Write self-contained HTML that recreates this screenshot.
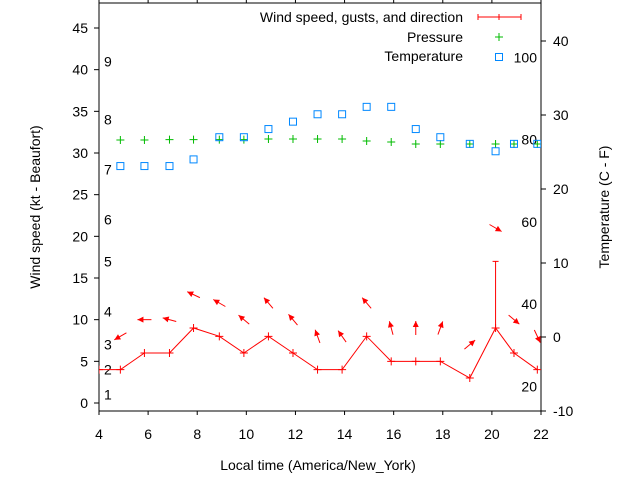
<!DOCTYPE html>
<html><head><meta charset="utf-8"><style>
html,body{margin:0;padding:0;background:#fff}
svg{display:block;font-family:"Liberation Sans",sans-serif}
</style></head><body>
<svg id="c" width="640" height="480"></svg>
<script>
const times=[4.0,4.87,5.85,6.87,7.85,8.9,9.9,10.9,11.9,12.9,13.9,14.9,15.9,16.9,17.9,19.1,20.15,20.9,21.85];
const windSpeed=[4,4,6,6,9,8,6,8,6,4,4,8,5,5,5,3,9,6,4];
const windGust=[null,null,null,null,null,null,null,null,null,null,null,null,null,null,null,null,17,null,null];
const windHeadAngle=[null,210,180,165,155,150,140,130,130,110,125,130,105,90,70,40,-30,-40,-65];
const pTimes=[4.87,5.85,6.87,7.85,8.9,9.9,10.9,11.9,12.9,13.9,14.9,15.9,16.9,17.9,19.1,20.15,20.9,21.85];
const pressure=[31.56,31.56,31.6,31.6,31.6,31.6,31.68,31.68,31.68,31.68,31.44,31.32,31.08,31.08,31.08,31.08,31.08,31.08];
const temperatureC=[23.1,23.1,23.1,24.0,27.0,27.0,28.1,29.1,30.1,30.1,31.1,31.1,28.1,27.0,26.1,25.1,26.1,26.1];
const xTicks=[4,6,8,10,12,14,16,18,20,22];
const yTicks=[0,5,10,15,20,25,30,35,40,45];
const tTicks=[-10,0,10,20,30,40];
const fLabels=[20,40,60,80,100];
const beaufort=[1,4,7,11,17,22,28,34,41];

const L=99,R=541,T=3,B=411;
const X=t=>L+(t-4)*(R-L)/18;
const Y=v=>403-v*375/45;
const YT=c=>337-c*7.4;
const svg=document.getElementById('c');
const NS='http://www.w3.org/2000/svg';
function mk(tag,at,parent){const e=document.createElementNS(NS,tag);for(const k in at)e.setAttribute(k,at[k]);(parent||svg).appendChild(e);return e;}
function txt(s,x,y,anchor,parent){const e=mk('text',{x:x,y:y,'text-anchor':anchor||'middle','font-size':14,fill:'#000'},parent);e.textContent=s;return e;}

// clip
const defs=mk('defs',{});const cp=mk('clipPath',{id:'pc'},defs);mk('rect',{x:L,y:T,width:R-L,height:B-T},cp);

// frame
const fr=mk('rect',{x:L,y:T,width:R-L,height:B-T,fill:'none',stroke:'#000','stroke-width':1});


xTicks.forEach(t=>{
  const g=mk('g',{});
  
  
  mk('line',{x1:X(t),x2:X(t),y1:B,y2:B+4,stroke:'#000'},g);
  mk('line',{x1:X(t),x2:X(t),y1:T,y2:0,stroke:'#000'},g);
  txt(String(t),X(t),439,'middle',g);
});
yTicks.forEach(v=>{
  const g=mk('g',{});
  
  
  mk('line',{x1:L-5,x2:L,y1:Y(v),y2:Y(v),stroke:'#000'},g);
  txt(String(v),88,Y(v)+5,'end',g);
});
tTicks.forEach(c=>{
  const g=mk('g',{});
  
  
  mk('line',{x1:R,x2:R+5,y1:YT(c),y2:YT(c),stroke:'#000'},g);
  txt(String(c),553,YT(c)+5,'start',g);
});
fLabels.forEach(f=>{
  const e=txt(String(f),537,YT((f-32)*5/9)+5,'end');
  
  
});
beaufort.forEach((v,i)=>{
  const e=txt(String(i+1),104,Y(v)+5,'start');
  
  
});

// titles
let e=txt('Local time (America/New_York)',318,470);

e=mk('text',{x:0,y:0,'text-anchor':'middle','font-size':14,transform:'translate(40,207) rotate(-90)'});e.textContent='Wind speed (kt - Beaufort)';

e=mk('text',{x:0,y:0,'text-anchor':'middle','font-size':14,transform:'translate(609,207) rotate(-90)'});e.textContent='Temperature (C - F)';


const plot=mk('g',{'clip-path':'url(#pc)'});


// wind line
const wl=mk('polyline',{points:times.map((t,i)=>X(t)+','+Y(windSpeed[i])).join(' '),fill:'none',stroke:'#f00','stroke-width':1},plot);

times.forEach((t,i)=>{
  const x=X(t),y=Y(windSpeed[i]);
  const p=mk('path',{d:`M${x-4},${y}h8M${x},${y-4}v8`,stroke:'#f00','stroke-width':1},plot);
  
  if(windGust[i]!=null){
    const yg=Y(windGust[i]);
    const gb=mk('path',{d:`M${x},${y}V${yg}M${x-3},${yg}h6`,stroke:'#f00','stroke-width':1},plot);
    
  }
  if(windHeadAngle[i]!=null){
    const top=Math.max(windSpeed[i],windGust[i]||0)+4;
    const cy=Y(top),a=windHeadAngle[i]*Math.PI/180;
    const dx=Math.cos(a),dy=-Math.sin(a),len=7;
    const hx=x+dx*len,hy=cy+dy*len,tx=x-dx*len,ty=cy-dy*len;
    const g=mk('g',{},plot);
    
    mk('line',{x1:tx,y1:ty,x2:hx,y2:hy,stroke:'#f00','stroke-width':1},g);
    const px=-dy,py=dx,h=6,w=3;
    mk('polygon',{points:`${hx},${hy} ${hx-dx*h+px*w},${hy-dy*h+py*w} ${hx-dx*h-px*w},${hy-dy*h-py*w}`,fill:'#f00'},g);
  }
});
// pressure
pTimes.forEach((t,i)=>{
  const x=X(t),y=Y(pressure[i]);
  const p=mk('path',{d:`M${x-4},${y}h8M${x},${y-4}v8`,stroke:'#0b0','stroke-width':1},plot);
  
});
// temperature
pTimes.forEach((t,i)=>{
  const x=X(t),y=YT(temperatureC[i]);
  const r=mk('rect',{x:x-3.5,y:y-3.5,width:7,height:7,fill:'none',stroke:'#08f','stroke-width':1},plot);
  
});

// legend
const lg=mk('g',{});
let le=mk('g',{},lg);
txt('Wind speed, gusts, and direction',463,22,'end',le);
mk('path',{d:'M478,17H521M478,14v6M521,14v6M499,14v6',stroke:'#f00','stroke-width':1},le);
le=mk('g',{},lg);
txt('Pressure',463,42,'end',le);
mk('path',{d:'M495,37h8M499,33v8',stroke:'#0b0','stroke-width':1},le);
le=mk('g',{},lg);
txt('Temperature',463,61,'end',le);
mk('rect',{x:495.5,y:53.5,width:7,height:7,fill:'none',stroke:'#08f'},le);
</script>
</body></html>
